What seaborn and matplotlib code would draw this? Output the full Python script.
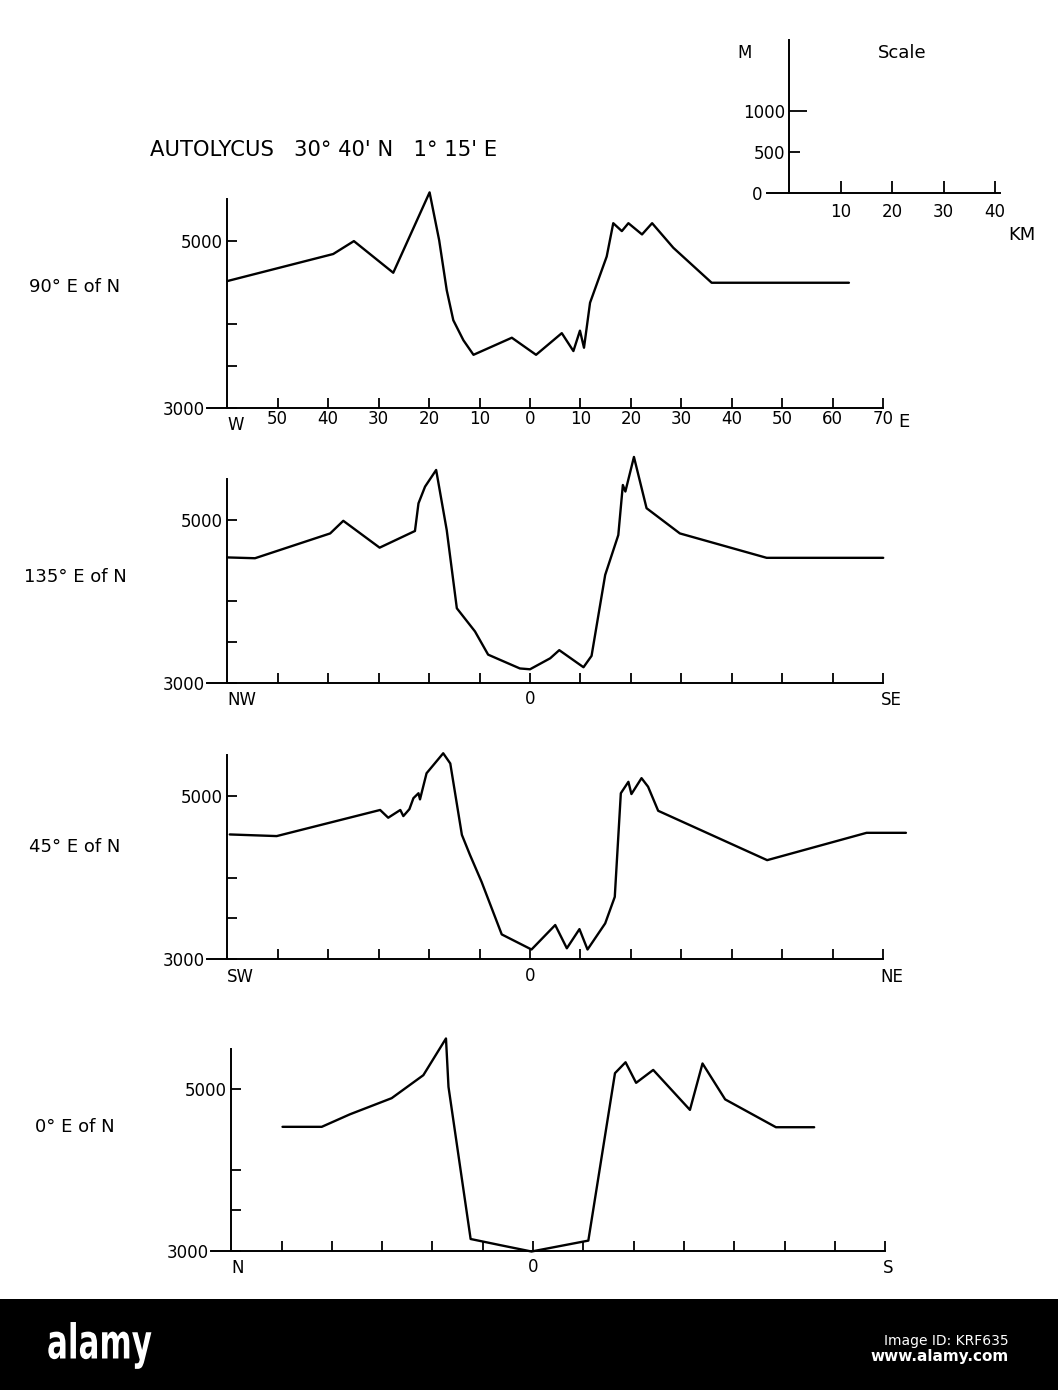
import matplotlib
matplotlib.use('Agg')
import pandas as pd
import seaborn as sns
from matplotlib import pyplot as plt
from matplotlib.patches import Rectangle, PathPatch
from matplotlib.textpath import TextPath
from matplotlib.font_manager import FontProperties
from matplotlib.transforms import Affine2D

W_PX, H_PX = 1058, 1390

# profiles: distance from crater centre (km), elevation (m)
km_90 = [-60, -39, -34.9, -27.1, -19.9, -18.0, -16.5, -15.2, -13.2, -11.2, -3.6, 1.2, 6.3, 8.6,
         9.9, 10.7, 11.9, 15.2, 16.5, 18.2, 19.5, 22.2, 24.2, 28.4, 36.0, 63.2]
elev_90 = [4520, 4845, 5000, 4620, 5585, 5010, 4410, 4050, 3810, 3635, 3840, 3635, 3895, 3680,
           3925, 3720, 4260, 4815, 5215, 5120, 5215, 5080, 5215, 4920, 4500, 4500]

km_135 = [-60, -54.5, -39.6, -37.0, -29.8, -22.8, -22.1, -20.8, -18.6, -16.5, -14.5, -10.9, -8.3,
          -5.9, -2.0, 0, 4.0, 5.8, 10.6, 12.2, 13.5, 14.9, 17.5, 18.4, 18.9, 20.6, 23.1, 29.7,
          46.9, 70]
elev_135 = [4540, 4530, 4835, 4990, 4660, 4865, 5205, 5410, 5615, 4875, 3915, 3630, 3345,
            3280, 3175, 3165, 3300, 3400, 3190, 3330, 3810, 4325, 4815, 5430, 5350, 5775, 5145, 4835,
            4535, 4535]

km_45 = [-59.5, -50.2, -29.7, -28.1, -25.7, -25.1, -23.9, -23.1, -22.1, -21.8, -20.5, -17.2, -15.8,
         -13.5, -11.9, -9.6, -5.6, 0.3, 5.0, 7.3, 9.8, 11.4, 14.9, 16.8, 18.0, 19.5, 20.1, 22.1,
         23.4, 25.4, 47.0, 66.7, 74.5]
elev_45 = [4530, 4510, 4830, 4735, 4830, 4755, 4840, 4975, 5035, 4960, 5280, 5525, 5400,
           4525, 4280, 3950, 3305, 3120, 3420, 3135, 3370, 3120, 3440, 3765, 5035, 5175, 5025, 5220,
           5115, 4820, 4215, 4550, 4550]

km_0 = [-49.8, -42.0, -36.4, -28.1, -21.8, -17.3, -16.8, -12.4, -6.6, -0.3, 11.0, 16.3, 18.4, 20.5,
        23.9, 31.2, 33.7, 38.2, 48.3, 55.9]
elev_0 = [4535, 4535, 4690, 4890, 5175, 5630, 5030, 3145, 3070, 2990, 3125, 5200, 5335, 5080,
          5240, 4745, 5320, 4875, 4530, 4530]

panel_names = ['90° E of N', '135° E of N', '45° E of N', '0° E of N']
end_labels = [('W', 'E'), ('NW', 'SE'), ('SW', 'NE'), ('N', 'S')]

x_ticks = [-50, -40, -30, -20, -10, 0, 10, 20, 30, 40, 50, 60, 70]
x_labels_km = ['50', '40', '30', '20', '10', '0', '10', '20', '30', '40', '50', '60', '70']
x_labels_centre = ['' if t != 0 else '0' for t in x_ticks]
y_ticks = [3000, 3500, 4000, 5000]
y_labels = ['3000', '', '', '5000']

scale_km = [10, 20, 30, 40]
scale_m = [0, 500, 1000]


def px_axes(fig, left, top, right, bottom):
    """axes placed by pixel edges"""
    return fig.add_axes([left / W_PX, 1 - bottom / H_PX, (right - left) / W_PX, (bottom - top) / H_PX])


def style_axis(ax):
    for s in ['top', 'right']:
        ax.spines[s].set_visible(False)
    for s in ['left', 'bottom']:
        ax.spines[s].set_color('black')
        ax.spines[s].set_linewidth(1.4)
    ax.set_xlabel('')
    ax.set_ylabel('')


def draw_profile(ax, km, elev, names, top_labels, label_pad, right_end=True):
    df = pd.DataFrame({'km': km, 'elev': elev})
    sns.lineplot(data=df, x='km', y='elev', ax=ax, color='black', linewidth=1.7,
                 sort=False, estimator=None, clip_on=False)
    ax.set_xlim(-64, 76)
    ax.set_ylim(2950, 5800)
    style_axis(ax)
    ax.spines['left'].set_position(('data', -60))
    ax.spines['left'].set_bounds(3000, 5500)
    ax.spines['bottom'].set_position(('data', 3000))
    ax.spines['bottom'].set_bounds(-64, 70)

    ax.set_xticks(x_ticks, top_labels)
    ax.set_yticks(y_ticks, y_labels)
    ax.tick_params(axis='x', bottom=True, direction='in', length=7, width=1.3,
                   labelsize=12, pad=label_pad, colors='black')
    ax.tick_params(axis='y', left=True, direction='in', length=7, width=1.3,
                   labelsize=12, pad=3, colors='black')
    ax.yaxis.get_major_ticks()[0].set_pad(16)

    ax.annotate(names[0], (-60, 3000), xytext=(0, -6), textcoords='offset points',
                ha='left', va='top', fontsize=12)
    if right_end:
        ax.annotate(names[1], (69.5, 3000), xytext=(0, -6), textcoords='offset points',
                    ha='left', va='top', fontsize=12)


def main():
    sns.set_theme(style='white')
    plt.rcParams['font.family'] = ['DejaVu Sans']
    plt.rcParams['text.color'] = 'black'

    fig = plt.figure(figsize=(W_PX / 100, H_PX / 100), dpi=100)

    # pixel layout of the four panels: (3000 m line, px per 1000 m, 0 km, px per km)
    layout = [(407.7, 83.3, 530, 5.046), (682.7, 81.35, 530, 5.046),
              (959.3, 81.6, 530, 5.046), (1250.7, 80.7, 533, 5.03)]
    profiles = [(km_90, elev_90), (km_135, elev_135), (km_45, elev_45), (km_0, elev_0)]
    label_y = [287, 577, 847, 1127]

    for i, ((base, s, x0, sx), (km, elev)) in enumerate(zip(layout, profiles)):
        ax = px_axes(fig, x0 - 64 * sx, base - 2.8 * s, x0 + 76 * sx, base + 0.05 * s)
        if i == 0:
            draw_profile(ax, km, elev, end_labels[i], x_labels_km, 1.5, right_end=False)
            ax.annotate(end_labels[i][1], (72.9, 3000), xytext=(0, -4), textcoords='offset points',
                        ha='left', va='top', fontsize=13)
        else:
            draw_profile(ax, km, elev, end_labels[i], x_labels_centre, 5.5)
        fig.text(75 / W_PX, 1 - label_y[i] / H_PX, panel_names[i], ha='center', va='center',
                 fontsize=13)

    fig.text(150 / W_PX, 1 - 150 / H_PX, "AUTOLYCUS   30° 40' N   1° 15' E",
             ha='left', va='center', fontsize=15.2)

    # scale box
    sax = px_axes(fig, 789 - 4.3 * 5.15, 193.3 - 1.86 * 82.3, 789 + 41 * 5.15, 193.3)
    sax.set_xlim(-4.3, 41)
    sax.set_ylim(0, 1860)
    sax.patch.set_alpha(0)
    style_axis(sax)
    sax.spines['left'].set_position(('data', 0))
    sax.set_xticks(scale_km, [str(v) for v in scale_km])
    sax.set_yticks(scale_m, [str(v) for v in scale_m])
    sax.tick_params(axis='x', bottom=True, direction='in', length=9, width=1.3,
                    labelsize=12, pad=7, colors='black')
    sax.tick_params(axis='y', left=True, direction='in', length=8, width=1.3,
                    labelsize=12, pad=3, colors='black')
    yt = sax.yaxis.get_major_ticks()
    yt[0].set_pad(19)
    yt[0].tick1line.set_markersize(0)
    yt[2].tick1line.set_markersize(13)
    fig.text(745 / W_PX, 1 - 53 / H_PX, 'M', ha='center', va='center', fontsize=12)
    fig.text(902 / W_PX, 1 - 53 / H_PX, 'Scale', ha='center', va='center', fontsize=13)
    fig.text(1022 / W_PX, 1 - 235 / H_PX, 'KM', ha='center', va='center', fontsize=13)

    # stock-image footer band
    fig.patches.append(Rectangle((0, 0), 1, 91 / H_PX, transform=fig.transFigure,
                                 facecolor='black', edgecolor='none', zorder=-1))
    logo = TextPath((0, 0), 'alamy', size=50, prop=FontProperties(family='DejaVu Sans', weight='bold'))
    fig.add_artist(PathPatch(logo, facecolor='white', edgecolor='none',
                             transform=Affine2D().scale(0.62, 0.96).translate(47, 31.5)))
    fig.text(1009 / W_PX, 1 - 1341 / H_PX, 'Image ID: KRF635', ha='right', va='center',
             color='white', fontsize=10)
    fig.text(1009 / W_PX, 1 - 1357 / H_PX, 'www.alamy.com', ha='right', va='center',
             color='white', fontsize=11, fontweight='bold')

    fig.savefig('out.png', dpi=100, facecolor='white')


if __name__ == '__main__':
    main()
